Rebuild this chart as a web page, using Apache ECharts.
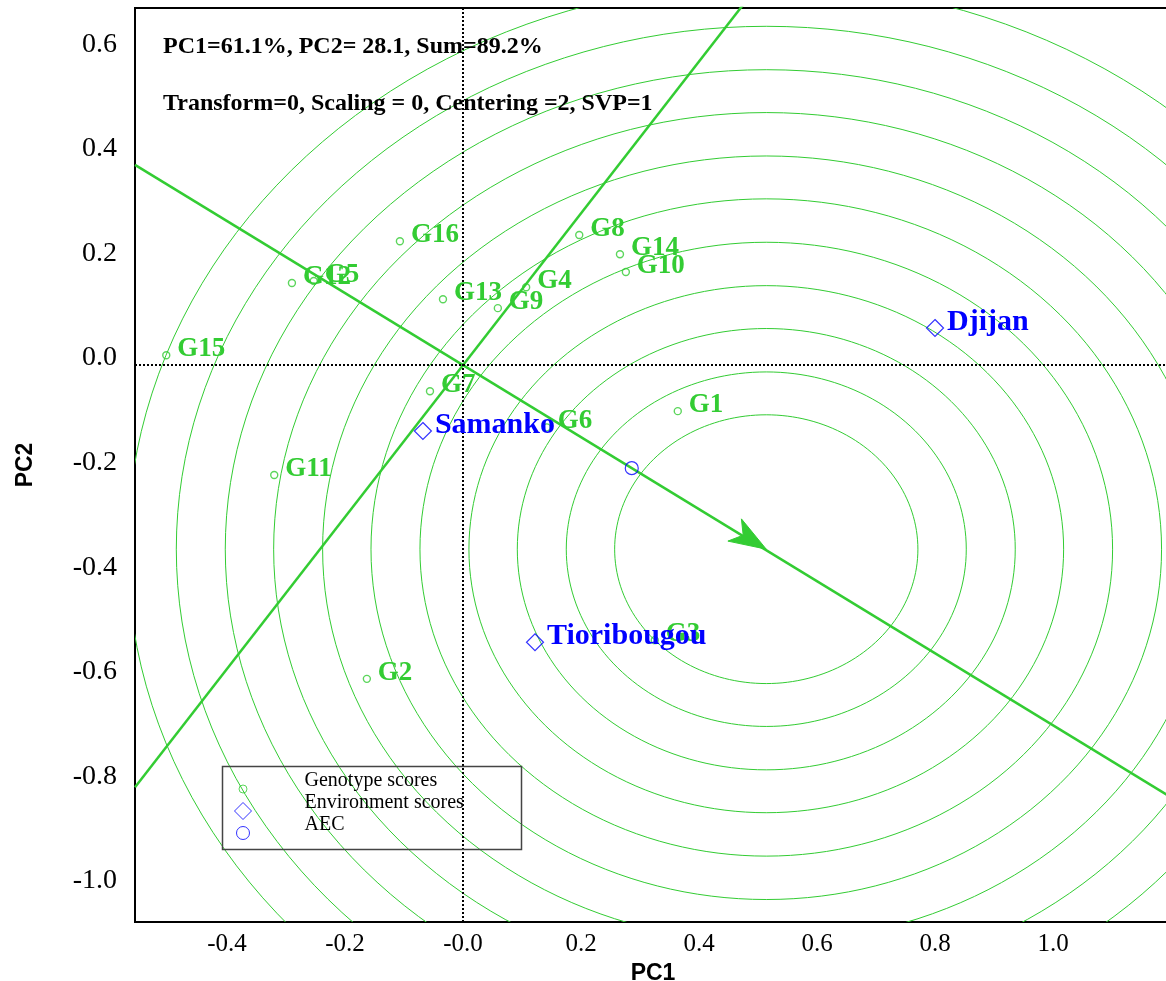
<!DOCTYPE html>
<html>
<head>
<meta charset="utf-8">
<script src="https://cdn.jsdelivr.net/npm/echarts@6/dist/echarts.min.js"></script>
<style>html,body{margin:0;padding:0;background:#fff;}#chart{width:1166px;height:981px;}</style>
</head>
<body>
<div id="chart"></div>
<script>
// ---- data ----
const genotypeNames = ['G1','G2','G3','G4','G5','G6','G7','G8','G9','G10','G11','G12','G13','G14','G15','G16'];
const genotypePC1 = [0.364,-0.163,0.325,0.107,-0.253,0.142,-0.056,0.197,0.059,0.276,-0.320,-0.290,-0.034,0.266,-0.503,-0.107];
const genotypePC2 = [-0.088,-0.600,-0.526,0.149,0.161,-0.119,-0.050,0.249,0.109,0.178,-0.210,0.157,0.126,0.212,0.019,0.237];
const envNames = ['Djijan','Samanko','Tioribougou'];
const envPC1 = [0.800,-0.068,0.122];
const envPC2 = [0.071,-0.126,-0.530];
const aecPoint = [0.286,-0.197];
const idealPoint = [0.514,-0.352];
const ringRadii = [0.257,0.339,0.422,0.504,0.587,0.670,0.752,0.835,0.917,1.000,1.083];
const xTickValues = [-0.4,-0.2,0,0.2,0.4,0.6,0.8,1.0];
const xTickLabels = ['-0.4','-0.2','-0.0','0.2','0.4','0.6','0.8','1.0'];
const yTickValues = [-1.0,-0.8,-0.6,-0.4,-0.2,0,0.2,0.4,0.6];
const yTickLabels = ['-1.0','-0.8','-0.6','-0.4','-0.2','0.0','0.2','0.4','0.6'];
const xRange = [-0.556, 1.2];
const yRange = [-1.065, 0.683];
const annotation1 = 'PC1=61.1%, PC2= 28.1, Sum=89.2%';
const annotation2 = 'Transform=0, Scaling = 0, Centering =2, SVP=1';

// ---- build ----
const GREEN = '#33cc33', BLUE = '#0000ff';
const SERIF = 'Liberation Serif', SANS = 'Liberation Sans';
const genoData = genotypeNames.map((n,i)=>({name:n, value:[genotypePC1[i], genotypePC2[i]]}));
const envData = envNames.map((n,i)=>({name:n, value:[envPC1[i], envPC2[i]]}));
const slopeAbs = aecPoint[1]/aecPoint[0];
const slopePerp = -1/slopeAbs;
function lookup(vals, labels, suffix){ return v => { let bi=0; vals.forEach((t,i)=>{ if(Math.abs(t-v)<Math.abs(vals[bi]-v)) bi=i; }); return labels[bi] + (suffix||''); }; }
function textLabels(names, color, size, dx, dy){
  return (params, api) => {
    const p = api.coord([api.value(0), api.value(1)]);
    return {type:'text', x:p[0]+dx, y:p[1]+dy, silent:true,
      style:{text:names[params.dataIndex], fill:color, font:'bold ' + size + 'px "' + SERIF + '"',
        fontFamily:SERIF, fontWeight:'bold', fontSize:size, align:'left', verticalAlign:'middle'}};
  };
}

const chart = echarts.init(document.getElementById('chart'), null, {renderer:'canvas'});
chart.setOption({
  animation:false,
  backgroundColor:'#fff',
  title:[
    {text:annotation1, left:163, top:35, padding:0, textStyle:{fontFamily:SERIF, fontWeight:'bold', fontSize:24, lineHeight:24, color:'#000'}},
    {text:annotation2, left:163, top:92, padding:0, textStyle:{fontFamily:SERIF, fontWeight:'bold', fontSize:24, lineHeight:24, color:'#000'}}
  ],
  grid:{left:135, top:8, right:-5, bottom:59, outerBoundsMode:'none', containLabel:false, show:true, borderColor:'#000', borderWidth:2, backgroundColor:'transparent'},
  xAxis:{type:'value', min:xRange[0], max:xRange[1], name:'PC1', nameLocation:'middle', nameGap:32,
    nameTextStyle:{fontFamily:SANS, fontWeight:'bold', fontSize:23, color:'#000'},
    axisLine:{show:false}, axisTick:{show:false}, splitLine:{show:false},
    axisLabel:{customValues:xTickValues, formatter:lookup(xTickValues,xTickLabels), margin:10, fontFamily:SERIF, fontSize:25, color:'#000'}},
  yAxis:{type:'value', min:yRange[0], max:yRange[1], name:'PC2', nameLocation:'middle', nameGap:98,
    nameTextStyle:{fontFamily:SANS, fontWeight:'bold', fontSize:23, color:'#000'},
    axisLine:{show:false}, axisTick:{show:false}, splitLine:{show:false},
    axisLabel:{customValues:yTickValues, formatter:lookup(yTickValues,yTickLabels,'\n '), margin:18, lineHeight:14, fontFamily:SERIF, fontSize:28, color:'#000'}},
  legend:{orient:'vertical', left:229, top:766, itemWidth:17, itemHeight:17, itemGap:-14,
    formatter: name => name + '\n ',
    textStyle:{fontFamily:SERIF, fontSize:20, lineHeight:16, color:'#000', padding:[0,0,0,48]},
    itemStyle:{borderWidth:1},
    data:[
      {name:'Genotype scores', icon:'path://M0,0M17,17M12.5,8.5A4,4,0,1,1,4.5,8.5A4,4,0,1,1,12.5,8.5Z'},
      {name:'Environment scores', icon:'diamond'},
      {name:'AEC', icon:'path://M0,0M17,17M15,8.5A6.5,6.5,0,1,1,2,8.5A6.5,6.5,0,1,1,15,8.5Z'}
    ]},
  graphic:[{type:'rect', left:220, top:764, shape:{width:299, height:83}, style:{fill:null, stroke:'#444', lineWidth:1.5}, z:100, silent:true}],
  series:[
    {type:'custom', name:'rings', coordinateSystem:'cartesian2d', clip:true, silent:true, z:1,
      data: ringRadii.map(r=>[idealPoint[0], idealPoint[1], r]), encode:{x:0, y:1},
      renderItem:(params, api)=>{
        const cx=api.value(0), cy=api.value(1), r=api.value(2), pts=[];
        for(let a=0;a<=360;a+=2){ const t=a*Math.PI/180; pts.push(api.coord([cx+r*Math.cos(t), cy+r*Math.sin(t)])); }
        return {type:'polyline', shape:{points:pts}, style:{stroke:GREEN, fill:null, lineWidth:1}};
      }},
    {type:'line', name:'zero', data:[], silent:true, z:2,
      markLine:{silent:true, symbol:['none','none'], label:{show:false},
        lineStyle:{color:'#000', type:[2,2], width:2}, data:[{xAxis:0},{yAxis:0}]}},
    {type:'line', name:'AEC abscissa', silent:true, symbol:'none', z:3,
      lineStyle:{color:GREEN, width:2.5},
      data:[[xRange[0], slopeAbs*xRange[0]],[xRange[1], slopeAbs*xRange[1]]]},
    {type:'line', name:'AEC ordinate', silent:true, symbol:'none', z:3,
      lineStyle:{color:GREEN, width:2.5},
      data:[[xRange[0], slopePerp*xRange[0]],[xRange[1], slopePerp*xRange[1]]]},
    {type:'custom', name:'ideal arrow', coordinateSystem:'cartesian2d', clip:true, silent:true, z:4,
      data:[idealPoint], encode:{x:0, y:1},
      renderItem:(params, api)=>{
        const tip=api.coord([api.value(0), api.value(1)]), o=api.coord([0,0]);
        let dx=tip[0]-o[0], dy=tip[1]-o[1]; const L=Math.hypot(dx,dy); dx/=L; dy/=L;
        const nx=-dy, ny=dx, len=37, hw=13, notch=27;
        return {type:'polygon', shape:{points:[
          tip,
          [tip[0]-len*dx+hw*nx, tip[1]-len*dy+hw*ny],
          [tip[0]-notch*dx, tip[1]-notch*dy],
          [tip[0]-len*dx-hw*nx, tip[1]-len*dy-hw*ny]]}, style:{fill:GREEN, stroke:GREEN, lineWidth:1}};
      }},
    {type:'scatter', name:'Genotype scores', data:genoData, symbol:'circle', symbolSize:7, z:5,
      itemStyle:{color:'rgba(255,255,255,0)', borderColor:GREEN, borderWidth:1.4}},
    {type:'custom', name:'Genotype labels', coordinateSystem:'cartesian2d', clip:false, silent:true, z:5,
      data:genoData, encode:{x:0, y:1}, renderItem:textLabels(genotypeNames, GREEN, 27, 11, -6)},
    {type:'scatter', name:'Environment scores', data:envData, symbol:'diamond', symbolSize:17, z:6,
      itemStyle:{color:'rgba(255,255,255,0)', borderColor:BLUE, borderWidth:1.2}},
    {type:'custom', name:'Environment labels', coordinateSystem:'cartesian2d', clip:false, silent:true, z:7,
      data:envData, encode:{x:0, y:1}, renderItem:textLabels(envNames, BLUE, 30, 12, -6)},
    {type:'scatter', name:'AEC', data:[aecPoint], symbol:'circle', symbolSize:13, z:6,
      itemStyle:{color:'rgba(255,255,255,0)', borderColor:BLUE, borderWidth:1.2}}
  ]
});
</script>
</body>
</html>
